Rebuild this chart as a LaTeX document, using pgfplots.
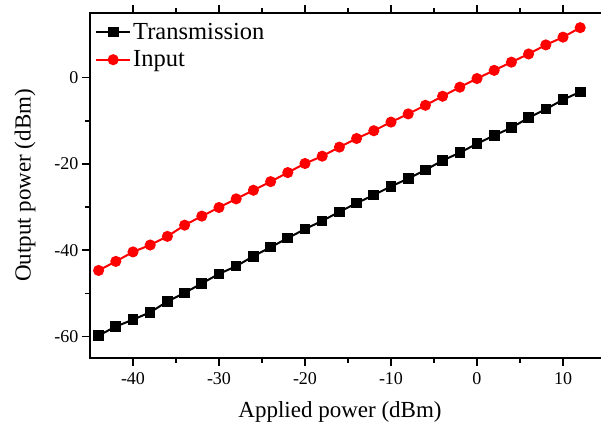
\documentclass[border=0pt]{standalone}
\usepackage{fontspec}
\setmainfont{Liberation Serif}
\usepackage{pgfplots}
\usepackage{pgfplotstable}
\pgfplotsset{compat=1.18}
\pgfplotstableread{
x y
-44 -59.8
-42 -57.7
-40 -56.1
-38 -54.4
-36 -51.9
-34 -49.9
-32 -47.7
-30 -45.5
-28 -43.7
-26 -41.4
-24 -39.3
-22 -37.2
-20 -35.1
-18 -33.2
-16 -31.1
-14 -29.1
-12 -27.2
-10 -25.2
-8 -23.4
-6 -21.4
-4 -19.2
-2 -17.4
0 -15.3
2 -13.4
4 -11.6
6 -9.3
8 -7.3
10 -5.1
12 -3.3
}\trans
\pgfplotstableread{
x y
-44 -44.7
-42 -42.6
-40 -40.4
-38 -38.8
-36 -36.8
-34 -34.2
-32 -32.1
-30 -30.1
-28 -28.1
-26 -26.1
-24 -24.1
-22 -22.0
-20 -19.9
-18 -18.2
-16 -16.1
-14 -14.1
-12 -12.3
-10 -10.3
-8 -8.4
-6 -6.4
-4 -4.3
-2 -2.2
0 -0.2
2 1.7
4 3.6
6 5.5
8 7.6
10 9.4
12 11.6
}\inp
\definecolor{ored}{RGB}{255,0,0}
\begin{document}
\begin{tikzpicture}
\path[use as bounding box] (-90pt,-70pt) rectangle (511pt,358pt);
\begin{axis}[
  at={(0pt,0pt)}, anchor=south west,
  scale only axis, width=516pt, height=345pt,
  xmin=-45, xmax=15, ymin=-65, ymax=15,
  xtick={-40,-30,...,10}, ytick={-60,-40,...,0},
  minor x tick num=1, minor y tick num=1,
  ytick pos=left, xtick pos=both,
  tick align=outside,
  major tick length=8pt, minor tick length=4.5pt,
  every tick/.style={black, line width=1.6pt},
  axis line style={line width=1.9pt},
  /pgf/number format/assume math mode=true,
  ticklabel style={font=\fontsize{18}{20}\selectfont},
  xticklabel style={yshift=-3pt},
  label style={font=\fontsize{23}{26}\selectfont},
  xlabel={Applied power (dBm)},
  ylabel={Output power (dBm)},
  xlabel style={at={(axis description cs:0.4845,-0.155)}, anchor=center},
  ylabel style={at={(axis description cs:-0.126,0.5)}, anchor=center},
  legend style={draw=none, fill=none, at={(axis description cs:0,1)}, anchor=north west,
    font=\fontsize{24.5}{27}\selectfont, row sep=6pt, xshift=2pt, yshift=-6pt},
  legend cell align=left,
  legend image code/.code={
    \draw[mark repeat=2,mark phase=2,#1] plot coordinates {(0pt,0pt) (17pt,0pt) (34pt,0pt)};},
]
\addplot[black, line width=2pt, mark=square*, mark size=4.3pt, mark options={solid}] table[x=x,y=y]{\trans};
\addlegendentry{Transmission}
\addplot[ored, line width=2pt, mark=*, mark size=4.5pt, mark options={solid}] table[x=x,y=y]{\inp};
\addlegendentry{Input}
\end{axis}
\end{tikzpicture}
\end{document}
